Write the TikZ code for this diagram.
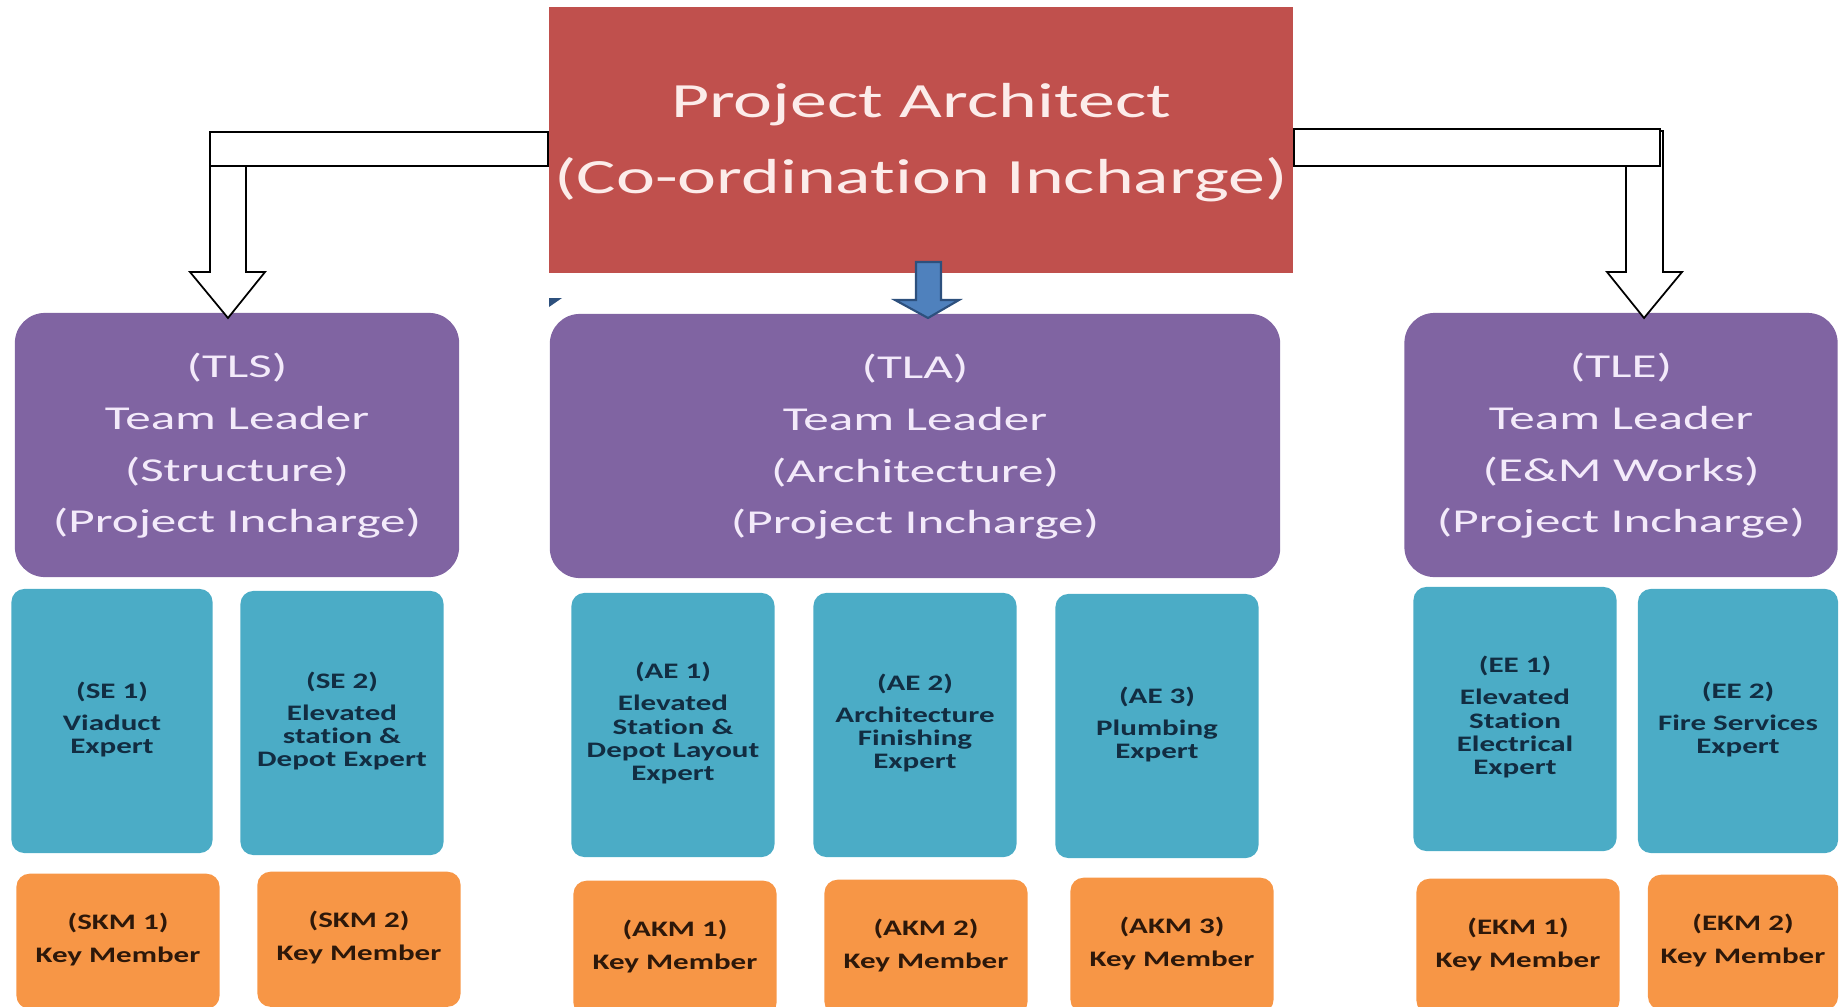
\documentclass[tikz,border=0pt]{standalone}
\usepackage{fontspec}
\setmainfont{Carlito}[Ligatures=NoCommon]
\usepackage{graphicx}

\definecolor{pared}{RGB}{192,80,77}
\definecolor{patext}{RGB}{252,236,234}
\definecolor{tlpurple}{RGB}{128,100,162}
\definecolor{tltext}{RGB}{243,234,250}
\definecolor{exteal}{RGB}{75,172,198}
\definecolor{extext}{RGB}{18,45,66}
\definecolor{kmorange}{RGB}{247,150,70}
\definecolor{kmtext}{RGB}{45,24,10}
\definecolor{arrowblue}{RGB}{79,129,189}
\definecolor{arrowedge}{RGB}{45,80,125}

\newcommand{\widetext}[2]{\scalebox{#1}[1]{\begin{tabular}{@{}c@{}}#2\end{tabular}}}

\tikzset{
  head/.style={fill=pared, minimum width=7.44cm, minimum height=2.65cm, inner sep=0pt,
    text=patext, font=\fontsize{14}{21.8}\selectfont},
  leader/.style={fill=tlpurple, rounded corners=0.3cm, minimum height=2.64cm, inner sep=0pt,
    text=tltext, font=\fontsize{9.5}{14.7}\selectfont},
  expert/.style={fill=exteal, rounded corners=0.13cm, minimum width=2.03cm, minimum height=2.64cm,
    inner sep=0pt, text=extext, font=\bfseries\fontsize{6.3}{6.6}\selectfont},
  member/.style={fill=kmorange, rounded corners=0.13cm, minimum width=2.03cm, minimum height=1.35cm,
    anchor=north, inner sep=0pt, text=kmtext, font=\bfseries\fontsize{6.3}{6.6}\selectfont},
  hollow/.style={draw=black, fill=white, line width=0.5pt},
}

\begin{document}
\begin{tikzpicture}[x=0.01cm, y=-0.01cm]
  \useasboundingbox (0,0) rectangle (1840,1006);
  % head
  \node[head] (pa) at (921,140) {\widetext{1.5}{Project Architect\\(Co-ordination Incharge)}};
  % team leaders
  \node[leader, minimum width=4.44cm] (tls) at (237,445) {\widetext{1.53}{(TLS)\\Team Leader\\(Structure)\\(Project Incharge)}};
  \node[leader, minimum width=7.30cm] (tla) at (915,446) {\widetext{1.53}{(TLA)\\Team Leader\\(Architecture)\\(Project Incharge)}};
  \node[leader, minimum width=4.33cm] (tle) at (1621,445) {\widetext{1.53}{(TLE)\\Team Leader\\(E\&M Works)\\(Project Incharge)}};
  % experts
  \node[expert, minimum width=2.01cm] (se1) at (112,721) {\widetext{1.4}{(SE 1)\\[2.5pt]Viaduct\\Expert}};
  \node[expert] (se2) at (342,723) {\widetext{1.4}{(SE 2)\\[2.5pt]Elevated\\station \&\\Depot Expert}};
  \node[expert] (ae1) at (673,725) {\widetext{1.4}{(AE 1)\\[2.5pt]Elevated\\Station \&\\Depot Layout\\Expert}};
  \node[expert] (ae2) at (915,725) {\widetext{1.4}{(AE 2)\\[2.5pt]Architecture\\Finishing\\Expert}};
  \node[expert] (ae3) at (1157,726) {\widetext{1.4}{(AE 3)\\[2.5pt]Plumbing\\Expert}};
  \node[expert] (ee1) at (1515,719) {\widetext{1.4}{(EE 1)\\[2.5pt]Elevated\\Station\\Electrical\\Expert}};
  \node[expert, minimum width=2.00cm] (ee2) at (1738,721) {\widetext{1.4}{(EE 2)\\[2.5pt]Fire Services\\Expert}};
  % key members
  \node[member] (skm1) at (118,873) {\widetext{1.4}{(SKM 1)\\[3pt]Key Member}};
  \node[member] (skm2) at (359,871) {\widetext{1.4}{(SKM 2)\\[3pt]Key Member}};
  \node[member] (akm1) at (675,880) {\widetext{1.4}{(AKM 1)\\[3pt]Key Member}};
  \node[member] (akm2) at (926,879) {\widetext{1.4}{(AKM 2)\\[3pt]Key Member}};
  \node[member] (akm3) at (1172,877) {\widetext{1.4}{(AKM 3)\\[3pt]Key Member}};
  \node[member] (ekm1) at (1518,878) {\widetext{1.4}{(EKM 1)\\[3pt]Key Member}};
  \node[member, minimum width=1.90cm] (ekm2) at (1743,874) {\widetext{1.4}{(EKM 2)\\[3pt]Key Member}};
  % left bent arrow
  \coordinate (lbar) at (210,132);
  \coordinate (ltip) at (228,318);
  \draw[hollow] (210,166) -- (210,272) -- (190,272) -- (ltip) -- (265,272) -- (246,272) -- (246,166);
  \draw[hollow] (lbar) rectangle (pa.west |- 0,166);
  % right bent arrow
  \coordinate (rbar) at (1660,129);
  \coordinate (rtip) at (1644,318);
  \draw[hollow] (1626,166) -- (1626,272) -- (1607,272) -- (rtip) -- (1682,272) -- (1663,272) -- (1663,131) -- (1660,131);
  \draw[hollow] (pa.east |- rbar) rectangle (1660,166);
  % middle arrow
  \coordinate (btip) at (928,318);
  \draw[fill=arrowblue, draw=arrowedge, line width=0.6pt] (916,262) -- (941,262) -- (941,300) -- (959,300) -- (btip) -- (895,300) -- (916,300) -- cycle;
  % stray mark
  \fill[arrowedge] (549,298) -- (562,298) -- (549,307) -- cycle;
\end{tikzpicture}
\end{document}
